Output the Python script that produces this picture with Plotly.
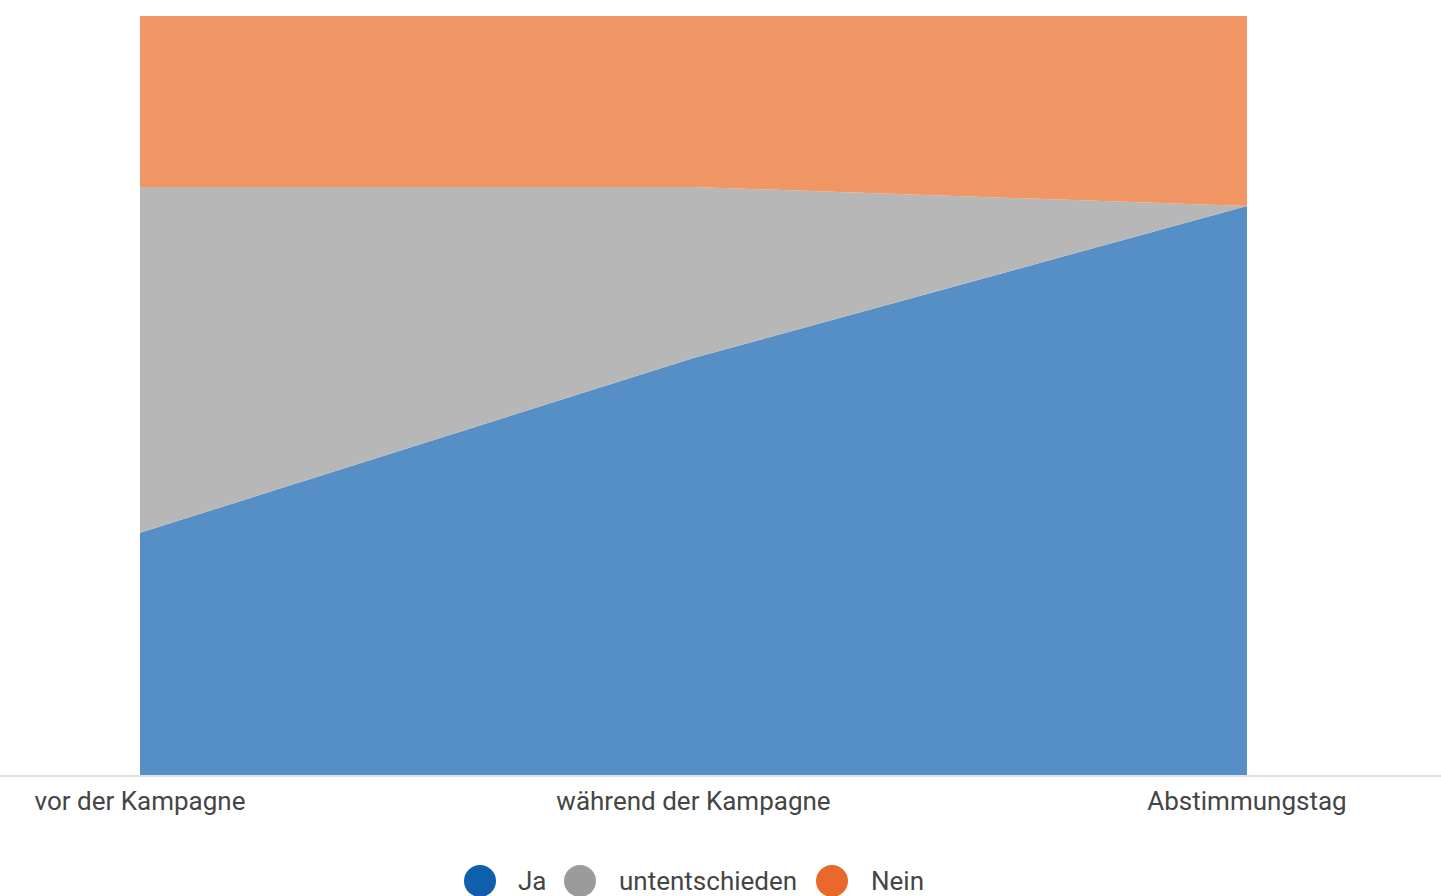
import plotly.graph_objects as go

categories = ["vor der Kampagne", "während der Kampagne", "Abstimmungstag"]
series_names = ["Ja", "untentschieden", "Nein"]
ja = [32, 55, 75]
untentschieden = [45.5, 22.5, 0]
nein = [22.5, 22.5, 25]

fill_colors = ["#558fc6", "#b7b7b7", "#f09664"]
legend_colors = ["#0f5fae", "#9b9b9b", "#e8692a"]

W, H = 1441, 896
ml, mr, mt, mb = 140, 194, 16, 120
pw, ph = W - ml - mr, H - mt - mb

fig = go.Figure()
xs = list(range(len(categories)))
for name, vals, col in zip(series_names, [ja, untentschieden, nein], fill_colors):
    fig.add_trace(go.Scatter(
        x=xs, y=vals, name=name, mode="lines", stackgroup="one",
        line=dict(width=0, color=col), fillcolor=col, showlegend=False,
        hoverinfo="name+y"))

shapes = [dict(type="line", xref="paper", yref="paper",
               x0=-ml / pw, x1=(W - ml) / pw, y0=0, y1=0,
               line=dict(color="#e0e0e0", width=2), layer="above")]
annotations = []
# custom legend
legend_items = [(464, 516), (564, 617), (816, 869)]
ly = (H - 881 - mb) / ph
r = 16
for (cx0, tx), name, col in zip(legend_items, series_names, legend_colors):
    shapes.append(dict(type="circle", xref="paper", yref="paper",
                       x0=(cx0 - ml) / pw, x1=(cx0 + 2 * r - ml) / pw,
                       y0=(H - 881 - r - mb) / ph, y1=(H - 881 + r - mb) / ph,
                       fillcolor=col, line=dict(width=0)))
    annotations.append(dict(xref="paper", yref="paper", x=(tx - ml) / pw, y=ly,
                            xanchor="left", yanchor="middle", text=name, showarrow=False,
                            font=dict(family="Roboto", size=26, color="#454545")))

fig.update_layout(
    width=W, height=H,
    margin=dict(l=ml, r=mr, t=mt, b=mb),
    paper_bgcolor="white", plot_bgcolor="white",
    showlegend=False,
    xaxis=dict(range=[0, 2], tickmode="array", tickvals=xs, ticktext=categories,
               showgrid=False, zeroline=False, showline=False, ticks="",
               ticklabelstandoff=7,
               tickfont=dict(family="Roboto", size=26, color="#454545")),
    yaxis=dict(range=[0, 100], visible=False, showgrid=False, zeroline=False),
    shapes=shapes, annotations=annotations,
)
fig.write_html("out.html")
